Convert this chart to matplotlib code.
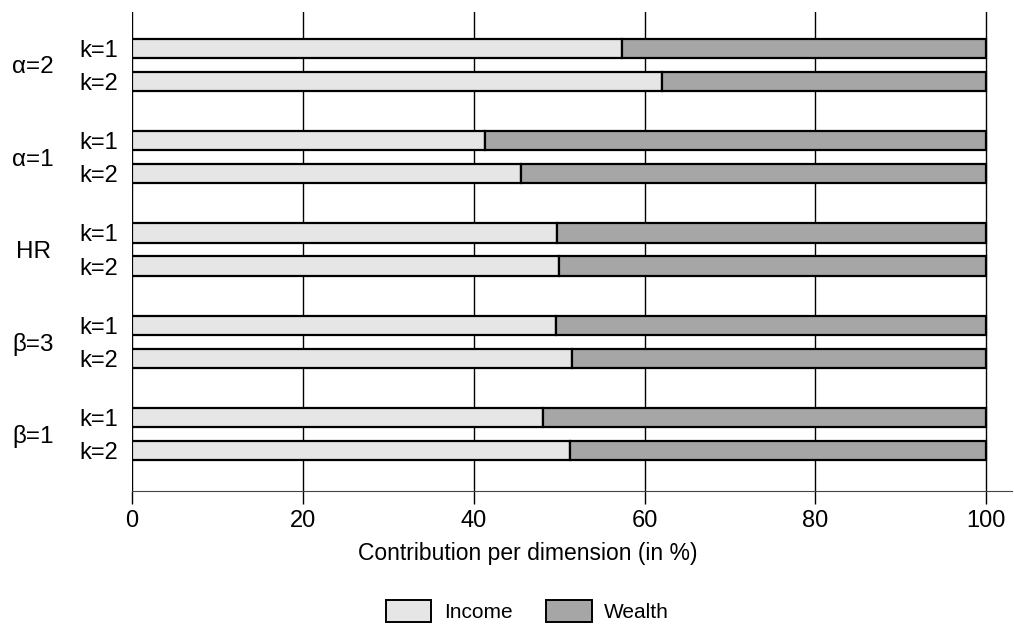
import matplotlib.pyplot as plt
from matplotlib.patches import Patch
from matplotlib.transforms import blended_transform_factory
import numpy as np

plt.rcParams['font.family'] = ['Liberation Sans', 'DejaVu Sans']

groups = ['\u03b1=2', '\u03b1=1', 'HR', '\u03b2=3', '\u03b2=1']
k_labels = ['k=1', 'k=2']
income = [57.4, 62.0, 41.3, 45.6, 49.7, 50.0, 49.6, 51.5, 48.1, 51.3]
wealth = [100 - v for v in income]

income_color = '#e6e6e6'
wealth_color = '#a6a6a6'

fig = plt.figure(figsize=(10.14, 6.3), dpi=100)
ax = fig.add_axes([0.130, 0.2206, 0.868, 0.7604])

gap = 2.79
ypos = []
for i in range(len(groups)):
    for j in range(len(k_labels)):
        ypos.append(i * gap + j)
ypos = np.array(ypos)

ax.barh(ypos, income, height=0.58, color=income_color, edgecolor='black',
        linewidth=1.6, zorder=3)
ax.barh(ypos, wealth, left=income, height=0.58, color=wealth_color,
        edgecolor='black', linewidth=1.6, zorder=3)

ax.set_xlim(0, 103)
ax.set_ylim(ypos[-1] + 1.23, -1.11)
ax.set_xticks([0, 20, 40, 60, 80, 100])
ax.set_yticks(ypos)
ax.set_yticklabels(k_labels * len(groups))
ax.tick_params(axis='y', length=0, pad=10, labelsize=17)
ax.tick_params(axis='x', length=9, width=1, labelsize=17, pad=5)
ax.grid(axis='x', color='black', linewidth=1, zorder=0)
for s in ['top', 'right', 'left']:
    ax.spines[s].set_visible(False)
ax.spines['bottom'].set_color('#444444')

trans = blended_transform_factory(fig.transFigure, ax.transData)
for i, g in enumerate(groups):
    ax.text(33 / 1014, i * gap + 0.57, g, transform=trans, fontsize=17.5,
            ha='center', va='center')

ax.set_xlabel('Contribution per dimension (in %)', fontsize=16.5)
ax.xaxis.set_label_coords(0.45, -0.106)

handles = [Patch(facecolor=income_color, edgecolor='black', linewidth=1.4, label='Income'),
           Patch(facecolor=wealth_color, edgecolor='black', linewidth=1.4, label='Wealth')]
fig.legend(handles=handles, loc='center', bbox_to_anchor=(0.52, 0.030), ncol=2,
           frameon=False, fontsize=15, handlelength=2.2, handleheight=1.3,
           columnspacing=1.6, handletextpad=0.6)

fig.savefig('out.png', dpi=100)
